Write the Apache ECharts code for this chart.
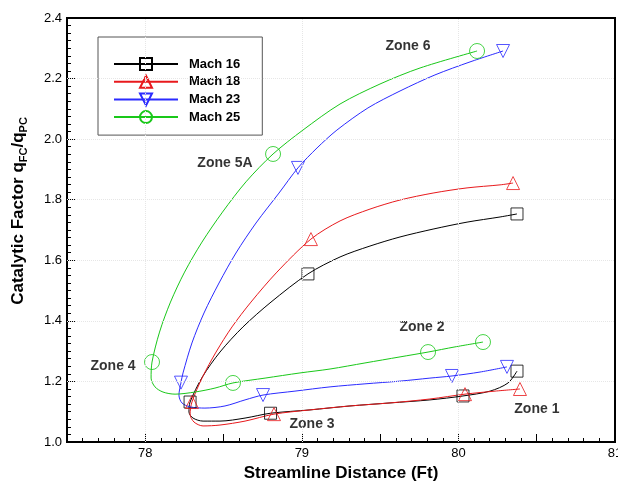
<!DOCTYPE html>
<html>
<head>
<meta charset="utf-8">
<script src="https://cdn.jsdelivr.net/npm/echarts@6/dist/echarts.min.js"></script>
<style>html,body{margin:0;padding:0;background:#fff}#c{width:618px;height:487px}</style>
</head>
<body>
<div id="c"></div>
<script>
// ---- data ----
const seriesNames = ['Mach 16', 'Mach 18', 'Mach 23', 'Mach 25'];
const xTicks = [78, 79, 80, 81];
const yTicks = [1.0, 1.2, 1.4, 1.6, 1.8, 2.0, 2.2, 2.4];

const mach16Curve = [[80.374,1.753],[80.266,1.743],[80.055,1.726],[79.838,1.703],[79.627,1.677],[79.435,1.647],[79.244,1.611],[79.039,1.555],[78.803,1.462],[78.624,1.380],[78.477,1.297],[78.365,1.215],[78.286,1.132],[78.279,1.099],[78.305,1.079],[78.369,1.069],[78.477,1.069],[78.637,1.079],[78.800,1.095],[79.052,1.106],[79.307,1.119],[79.563,1.129],[79.818,1.139],[80.029,1.152],[80.202,1.168],[80.317,1.195],[80.374,1.234]];
const mach16Marks = [[80.374,1.753],[79.039,1.555],[78.286,1.132],[78.800,1.095],[80.029,1.152],[80.374,1.234]];

const mach18Curve = [[80.349,1.855],[80.266,1.849],[80.055,1.839],[79.838,1.822],[79.627,1.799],[79.435,1.769],[79.244,1.730],[79.058,1.670],[78.841,1.561],[78.675,1.462],[78.554,1.380],[78.452,1.297],[78.366,1.215],[78.298,1.132],[78.286,1.092],[78.311,1.066],[78.369,1.053],[78.477,1.056],[78.637,1.069],[78.822,1.092],[79.052,1.106],[79.307,1.119],[79.563,1.129],[79.818,1.142],[80.042,1.158],[80.234,1.168],[80.393,1.175]];
const mach18Marks = [[80.349,1.855],[79.058,1.670],[78.298,1.132],[78.822,1.092],[80.042,1.158],[80.393,1.175]];

const mach23Curve = [[80.285,2.291],[80.074,2.255],[79.850,2.212],[79.627,2.159],[79.422,2.103],[79.224,2.030],[79.097,1.971],[78.975,1.905],[78.854,1.822],[78.707,1.723],[78.579,1.624],[78.471,1.525],[78.375,1.426],[78.298,1.327],[78.241,1.228],[78.228,1.196],[78.215,1.155],[78.234,1.129],[78.286,1.116],[78.381,1.112],[78.509,1.119],[78.637,1.139],[78.752,1.155],[78.956,1.168],[79.180,1.182],[79.403,1.192],[79.627,1.201],[79.818,1.211],[79.959,1.218],[80.138,1.231],[80.310,1.248]];
const mach23Marks = [[80.285,2.291],[78.975,1.905],[78.228,1.196],[78.752,1.155],[79.959,1.218],[80.310,1.248]];

const mach25Curve = [[80.119,2.291],[79.755,2.235],[79.499,2.182],[79.244,2.116],[79.007,2.030],[78.816,1.951],[78.643,1.859],[78.493,1.759],[78.362,1.660],[78.251,1.561],[78.161,1.462],[78.091,1.363],[78.043,1.264],[78.037,1.211],[78.062,1.182],[78.113,1.165],[78.190,1.158],[78.318,1.165],[78.445,1.178],[78.560,1.195],[78.765,1.211],[78.988,1.228],[79.180,1.241],[79.403,1.261],[79.627,1.281],[79.806,1.297],[79.978,1.314],[80.157,1.330]];
const mach25Marks = [[80.119,2.291],[78.816,1.951],[78.043,1.264],[78.560,1.195],[79.806,1.297],[80.157,1.330]];

const zoneLabels = ['Zone 6', 'Zone 5A', 'Zone 4', 'Zone 2', 'Zone 3', 'Zone 1'];
const zonePos = [[79.678,2.307],[78.509,1.921],[77.794,1.251],[79.767,1.380],[79.065,1.059],[80.501,1.109]];

// ---- chart ----
const FONT = '"Liberation Sans", Arial, Helvetica, sans-serif';
const colors = ['#000000', '#e8191c', '#2b2bff', '#19c819'];
const symbols = ['rect', 'triangle', 'triangle', 'circle'];
const rotations = [0, 0, 180, 0];
const sizes = [12, 13, 13, 15];
const curves = [mach16Curve, mach18Curve, mach23Curve, mach25Curve];
const marks = [mach16Marks, mach18Marks, mach23Marks, mach25Marks];

const series = [];
seriesNames.forEach((name, i) => {
  const common = {
    name: name,
    symbol: symbols[i],
    symbolRotate: rotations[i],
    symbolSize: sizes[i],
    itemStyle: { color: 'transparent', borderColor: colors[i], borderWidth: 1 },
    lineStyle: { color: colors[i], width: 1 }
  };
  series.push(Object.assign({}, common, {
    type: 'line',
    data: curves[i],
    smooth: 0.3,
    showSymbol: false,
    z: 2
  }));
  series.push(Object.assign({}, common, {
    type: 'scatter',
    data: marks[i],
    z: 3
  }));
});

series.push({
  type: 'scatter',
  name: 'zones',
  symbolSize: 0,
  data: zonePos.map((p, i) => ({ value: p, name: zoneLabels[i] })),
  label: {
    show: true, position: 'inside', formatter: p => p.name,
    fontFamily: FONT, fontWeight: 'bold', fontSize: 14, color: '#000'
  },
  silent: true,
  z: 4
});

series.push({
  type: 'line',
  name: 'grid',
  data: [],
  markLine: {
    silent: true, symbol: 'none', label: { show: false },
    lineStyle: { color: '#e6e6e6', type: 'dotted', width: 1 },
    data: xTicks.filter(v => v < 81).map(v => ({ xAxis: v }))
      .concat(yTicks.filter(v => v > 1 && v < 2.4).map(v => ({ yAxis: v })))
  },
  z: 1
});

const chart = echarts.init(document.getElementById('c'), null, { renderer: 'canvas' });
chart.setOption({
  backgroundColor: '#fff',
  animation: false,
  textStyle: { fontFamily: FONT },
  grid: { left: 67, right: 3, top: 18, bottom: 45, outerBoundsMode: 'none', containLabel: false,
          show: true, borderColor: '#000', borderWidth: 2, backgroundColor: 'transparent' },
  legend: {
    data: seriesNames,
    orient: 'vertical',
    left: 98, top: 37,
    padding: [20, 22, 11, 15],
    itemWidth: 64, itemHeight: 15, itemGap: 3.7,
    borderColor: '#555', borderWidth: 1,
    backgroundColor: '#fff',
    textStyle: { fontFamily: FONT, fontSize: 13, fontWeight: 'bold', color: '#000', padding: [0, 0, 0, 6] },
    selectedMode: false
  },
  xAxis: {
    type: 'value', min: 77.5, max: 81, interval: 0.5,
    name: 'Streamline Distance (Ft)', nameLocation: 'middle', nameGap: 19,
    nameTextStyle: { fontFamily: FONT, fontWeight: 'bold', fontSize: 17, color: '#000' },
    axisLine: { show: true, lineStyle: { color: '#000', width: 2 } },
    axisTick: { show: true, inside: true, length: 8, lineStyle: { color: '#000', width: 1 } },
    minorTick: { show: true, splitNumber: 5, length: 4, lineStyle: { color: '#000', width: 1 } },
    axisLabel: {
      fontFamily: FONT, fontSize: 13, color: '#000', margin: 5,
      showMaxLabel: true,
      formatter: v => (xTicks.indexOf(v) >= 0 ? String(v) : '')
    },
    splitLine: { show: false }
  },
  yAxis: {
    type: 'value', min: 1.0, max: 2.4, interval: 0.2,
    name: '{a|Catalytic Factor q}{s|FC}{a|/q}{s|PC}', nameLocation: 'middle', nameGap: 38,
    nameTextStyle: {
      padding: [0, 0, 0, 38],
      rich: {
        a: { fontFamily: FONT, fontWeight: 'bold', fontSize: 17, color: '#000', lineHeight: 22, verticalAlign: 'middle' },
        s: { fontFamily: FONT, fontWeight: 'bold', fontSize: 11, color: '#000', lineHeight: 22, verticalAlign: 'bottom' }
      }
    },
    axisLine: { show: true, lineStyle: { color: '#000', width: 2 } },
    axisTick: { show: true, inside: true, length: 8, lineStyle: { color: '#000', width: 1 } },
    minorTick: { show: true, splitNumber: 8, length: 4, lineStyle: { color: '#000', width: 1 } },
    axisLabel: { fontFamily: FONT, fontSize: 13, color: '#000', margin: 5, formatter: v => v.toFixed(1) },
    splitLine: { show: false }
  },
  series: series
});
</script>
</body>
</html>
